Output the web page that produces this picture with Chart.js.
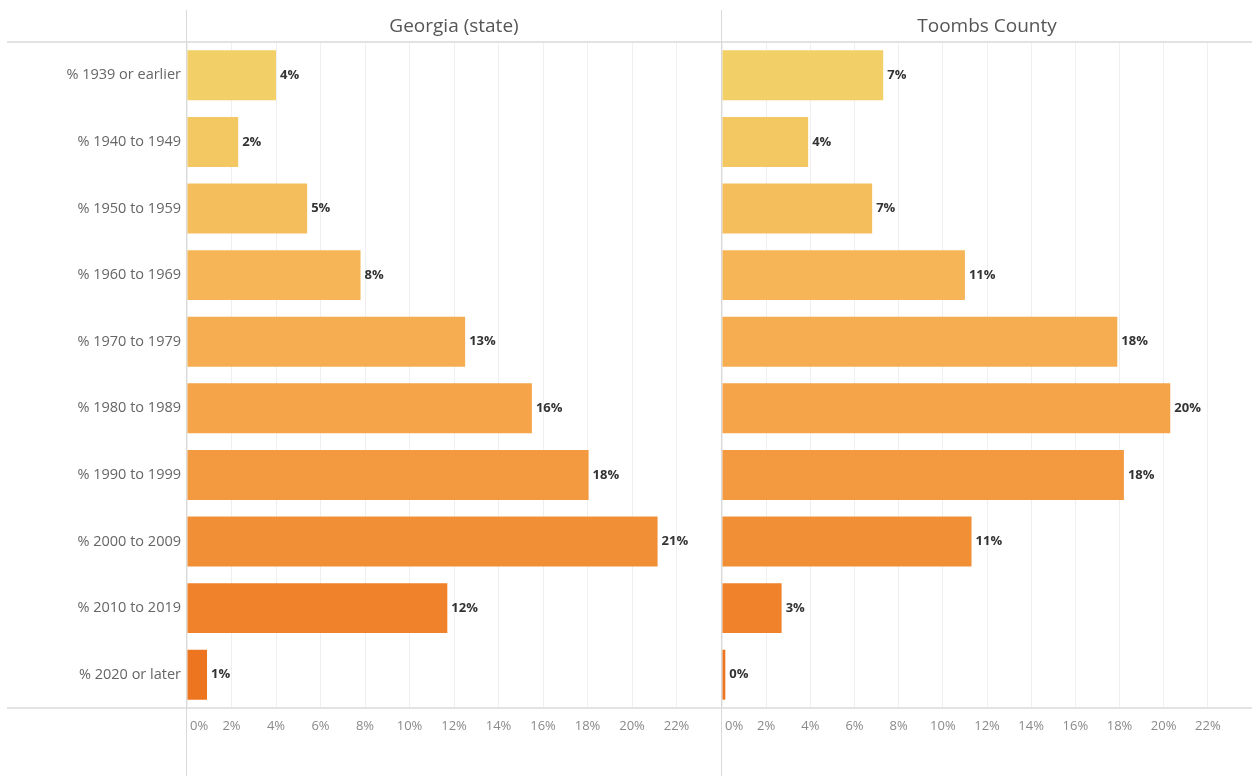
<!DOCTYPE html>
<html>
<head>
<meta charset="utf-8">
<script src="https://cdn.jsdelivr.net/npm/chart.js@4/dist/chart.umd.min.js"></script>
<style>
  html, body { margin: 0; padding: 0; background: #fff; }
  #wrap { position: relative; width: 1252px; height: 776px; overflow: hidden; }
  #wrap canvas { position: absolute; top: 0; }
  #left { left: 0; }
  #right { left: 721px; }
</style>
</head>
<body>
<div id="wrap">
  <canvas id="left" width="721" height="776"></canvas>
  <canvas id="right" width="531" height="776"></canvas>
</div>
<script>
var periods = ['% 1939 or earlier', '% 1940 to 1949', '% 1950 to 1959', '% 1960 to 1969', '% 1970 to 1979',
               '% 1980 to 1989', '% 1990 to 1999', '% 2000 to 2009', '% 2010 to 2019', '% 2020 or later'];
var georgia = [4.0, 2.3, 5.4, 7.8, 12.5, 15.5, 18.05, 21.15, 11.7, 0.9];
var toombs  = [7.3, 3.9, 6.8, 11.0, 17.9, 20.3, 18.2, 11.3, 2.7, 0.15];
var xTicks  = [0, 2, 4, 6, 8, 10, 12, 14, 16, 18, 20, 22];

// yellow to orange, one shade per period
var shades = ['#f2d067', '#f3c762', '#f5be5d', '#f6b657', '#f6ad51',
              '#f5a449', '#f39a41', '#f18f37', '#f0822b', '#ee7520'];

var FONT = '"Open Sans", Lato, sans-serif';

var panelDecor = {
  id: 'panelDecor',
  afterDraw: function (chart, args, opts) {
    var ctx = chart.ctx;
    var area = chart.chartArea;
    var xs = chart.scales.x;
    ctx.save();

    // header and footer rules
    ctx.fillStyle = '#e3e3e3';
    ctx.fillRect(opts.ruleFrom, area.top - 1, chart.width - opts.ruleFrom, 2);
    ctx.fillRect(opts.ruleFrom, area.bottom - 1, chart.width - opts.ruleFrom, 2);

    // pane divider at zero
    ctx.fillStyle = '#d9d9d9';
    ctx.fillRect(Math.round(area.left) - 1, 10, 1, chart.height - 10);

    // pane title
    ctx.fillStyle = '#555';
    ctx.font = '19px ' + FONT;
    ctx.textAlign = 'center';
    ctx.textBaseline = 'middle';
    ctx.fillText(opts.title, (area.left + area.right) / 2, 27);

    // axis labels
    ctx.fillStyle = '#8a8a8a';
    ctx.font = '13px ' + FONT;
    xTicks.forEach(function (v) {
      var px = xs.getPixelForValue(v);
      if (v === 0) {
        ctx.textAlign = 'left';
        ctx.fillText(v + '%', px + 3, 726);
      } else {
        ctx.textAlign = 'center';
        ctx.fillText(v + '%', px, 726);
      }
    });

    // value labels
    var ds = chart.data.datasets[0];
    var meta = chart.getDatasetMeta(0);
    ctx.fillStyle = '#333';
    ctx.font = 'bold 13px ' + FONT;
    ctx.textAlign = 'left';
    meta.data.forEach(function (bar, i) {
      ctx.fillText(Math.round(ds.data[i]) + '%', bar.x + 4, bar.y);
    });

    ctx.restore();
  }
};

function makePanel(canvasId, values, title, showCategories) {
  return new Chart(document.getElementById(canvasId), {
    type: 'bar',
    data: {
      labels: periods,
      datasets: [{
        data: values,
        backgroundColor: shades,
        borderWidth: 0,
        barPercentage: 0.75,
        categoryPercentage: 1
      }]
    },
    options: {
      indexAxis: 'y',
      responsive: false,
      animation: false,
      layout: { padding: { top: 42, left: showCategories ? 0 : 1, right: 0, bottom: 0 } },
      plugins: {
        legend: { display: false },
        tooltip: { enabled: false },
        panelDecor: { title: title, ruleFrom: showCategories ? 7 : 0 }
      },
      scales: {
        x: {
          min: 0, max: 24,
          ticks: { display: false, stepSize: 2 },
          grid: { color: '#efefef', drawTicks: false },
          border: { display: false },
          afterFit: function (s) { s.height = 68; }
        },
        y: {
          display: showCategories ? true : 'auto',
          ticks: {
            display: showCategories,
            color: '#666',
            padding: 6,
            font: { family: FONT, size: 14.5 }
          },
          grid: { display: false, drawTicks: false },
          border: { display: false },
          afterFit: function (s) { s.width = showCategories ? 187 : 0; }
        }
      }
    },
    plugins: [panelDecor]
  });
}

makePanel('left', georgia, 'Georgia (state)', true);
makePanel('right', toombs, 'Toombs County', false);
</script>
</body>
</html>
